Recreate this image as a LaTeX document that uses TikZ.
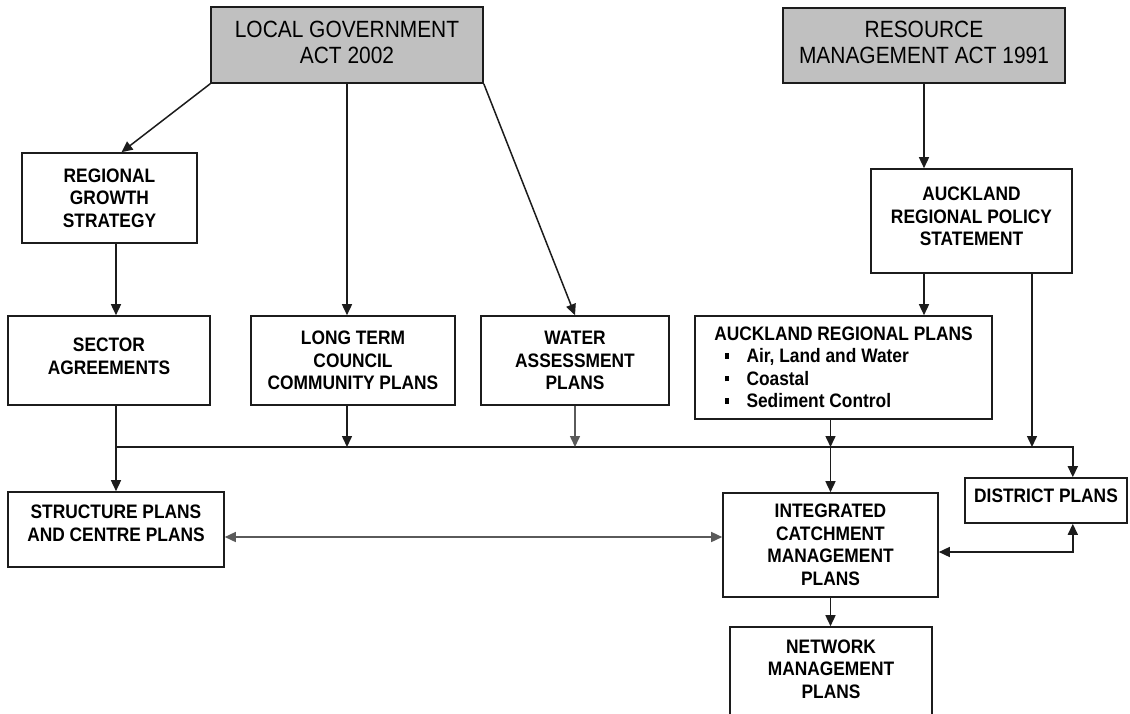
\documentclass[tikz,border=0pt]{standalone}
\usepackage{fontspec}
\setmainfont{Liberation Sans}[FakeStretch=0.89]
\usetikzlibrary{arrows.meta}
\definecolor{actGrey}{HTML}{C0C0C0}
\definecolor{lineDark}{HTML}{1C1C1C}
\definecolor{lineGrey}{HTML}{5A5A5A}
\newcommand{\planitem}[1]{\makebox[297pt][l]{\hspace*{30pt}\rule[4pt]{3.5pt}{5.5pt}\hspace{18pt}#1}}

\begin{document}
\begin{tikzpicture}[x=1pt,y=-1pt,
  plan/.style={draw=lineDark,line width=1.6pt,fill=white,align=center,inner sep=0pt,
    font=\fontsize{19.5}{22.5}\selectfont\bfseries},
  act/.style={plan,fill=actGrey,font=\fontsize{23.5}{26}\selectfont},
  lift/.style={text depth=#1},
  flow/.style={draw=lineDark,line width=1.5pt,-{Triangle[length=11pt,width=10pt]}},
  twoway/.style={draw=lineDark,line width=1.5pt,{Triangle[length=11pt,width=10pt]}-{Triangle[length=11pt,width=10pt]}}]
  \useasboundingbox[fill=white] (0,0) rectangle (1130,713);

  % the two acts
  \node[act,minimum width=272pt,minimum height=76pt,lift=6pt] (lga) at (347,45) {LOCAL GOVERNMENT\\ACT 2002};
  \node[act,minimum width=282pt,minimum height=75pt,lift=6pt] (rma) at (924,45.5) {RESOURCE\\MANAGEMENT ACT 1991};

  % plans
  \node[plan,minimum width=175pt,minimum height=90pt] (rgs) at (109.5,198) {REGIONAL\\GROWTH\\STRATEGY};
  \node[plan,minimum width=201pt,minimum height=104pt,lift=9pt] (arps) at (971.5,221) {AUCKLAND\\REGIONAL POLICY\\STATEMENT};
  \node[plan,minimum width=202pt,minimum height=89pt,lift=9pt] (sec) at (109,360.5) {SECTOR\\AGREEMENTS};
  \node[plan,minimum width=204pt,minimum height=89pt] (ltcp) at (353,360.5) {LONG TERM\\COUNCIL\\COMMUNITY PLANS};
  \node[plan,minimum width=188pt,minimum height=89pt] (wap) at (575,360.5) {WATER\\ASSESSMENT\\PLANS};
  \node[plan,minimum width=297pt,minimum height=103pt] (arp) at (843.5,367.5) {AUCKLAND REGIONAL PLANS\\
    \planitem{Air, Land and Water}\\
    \planitem{Coastal}\\
    \planitem{Sediment Control}};
  \node[plan,minimum width=216pt,minimum height=75pt,lift=13pt] (str) at (116,529.5) {STRUCTURE PLANS\\AND CENTRE PLANS};
  \node[plan,minimum width=215pt,minimum height=104pt] (icmp) at (830.5,545) {INTEGRATED\\CATCHMENT\\MANAGEMENT\\PLANS};
  \node[plan,minimum width=162pt,minimum height=45pt,lift=10pt] (dist) at (1046,500.5) {DISTRICT PLANS};
  \node[plan,minimum width=202pt,minimum height=100pt,lift=16pt] (nmp) at (831,677) {NETWORK\\MANAGEMENT\\PLANS};

  \coordinate (bus) at (0,447);

  % from the acts
  \draw[flow] (lga.south west) -- ([xshift=12pt]rgs.north);
  \draw[flow] (lga.south) -- (lga.south |- ltcp.north);
  \draw[flow] (lga.south east) -- (wap.north);
  \draw[flow] (rma.south) -- (rma.south |- arps.north);
  \draw[flow] (rma.south |- arps.south) -- (rma.south |- arp.north);
  \draw[flow] (rgs.south -| str.north) -- (sec.north -| str.north);

  % collector line
  \draw[flow] (bus -| str.north) -- (bus -| arps.east) -- (arps.east |- dist.north);
  \draw[flow] (sec.south -| str.north) -- (str.north);
  \draw[flow] (ltcp.south -| lga.south) -- (bus -| lga.south);
  \draw[flow,draw=lineGrey] (wap.south) -- (wap.south |- bus);
  \draw[flow] (arp.south -| icmp.north) -- (bus -| icmp.north);
  \draw[flow] (bus -| icmp.north) -- (icmp.north);
  \draw[flow] ([xshift=60.5pt]arps.south) -- ([xshift=60.5pt]arps.south |- bus);

  % two-way links
  \draw[twoway,draw=lineGrey] ([yshift=-7.5pt]str.east) -- ([yshift=-7.5pt]str.east -| icmp.west);
  \draw[twoway] ([yshift=-7pt]icmp.east) -- ([yshift=-7pt]icmp.east -| arps.east) -- (arps.east |- dist.south);
  \draw[flow] (icmp.south) -- (icmp.south |- nmp.north);
\end{tikzpicture}
\end{document}
